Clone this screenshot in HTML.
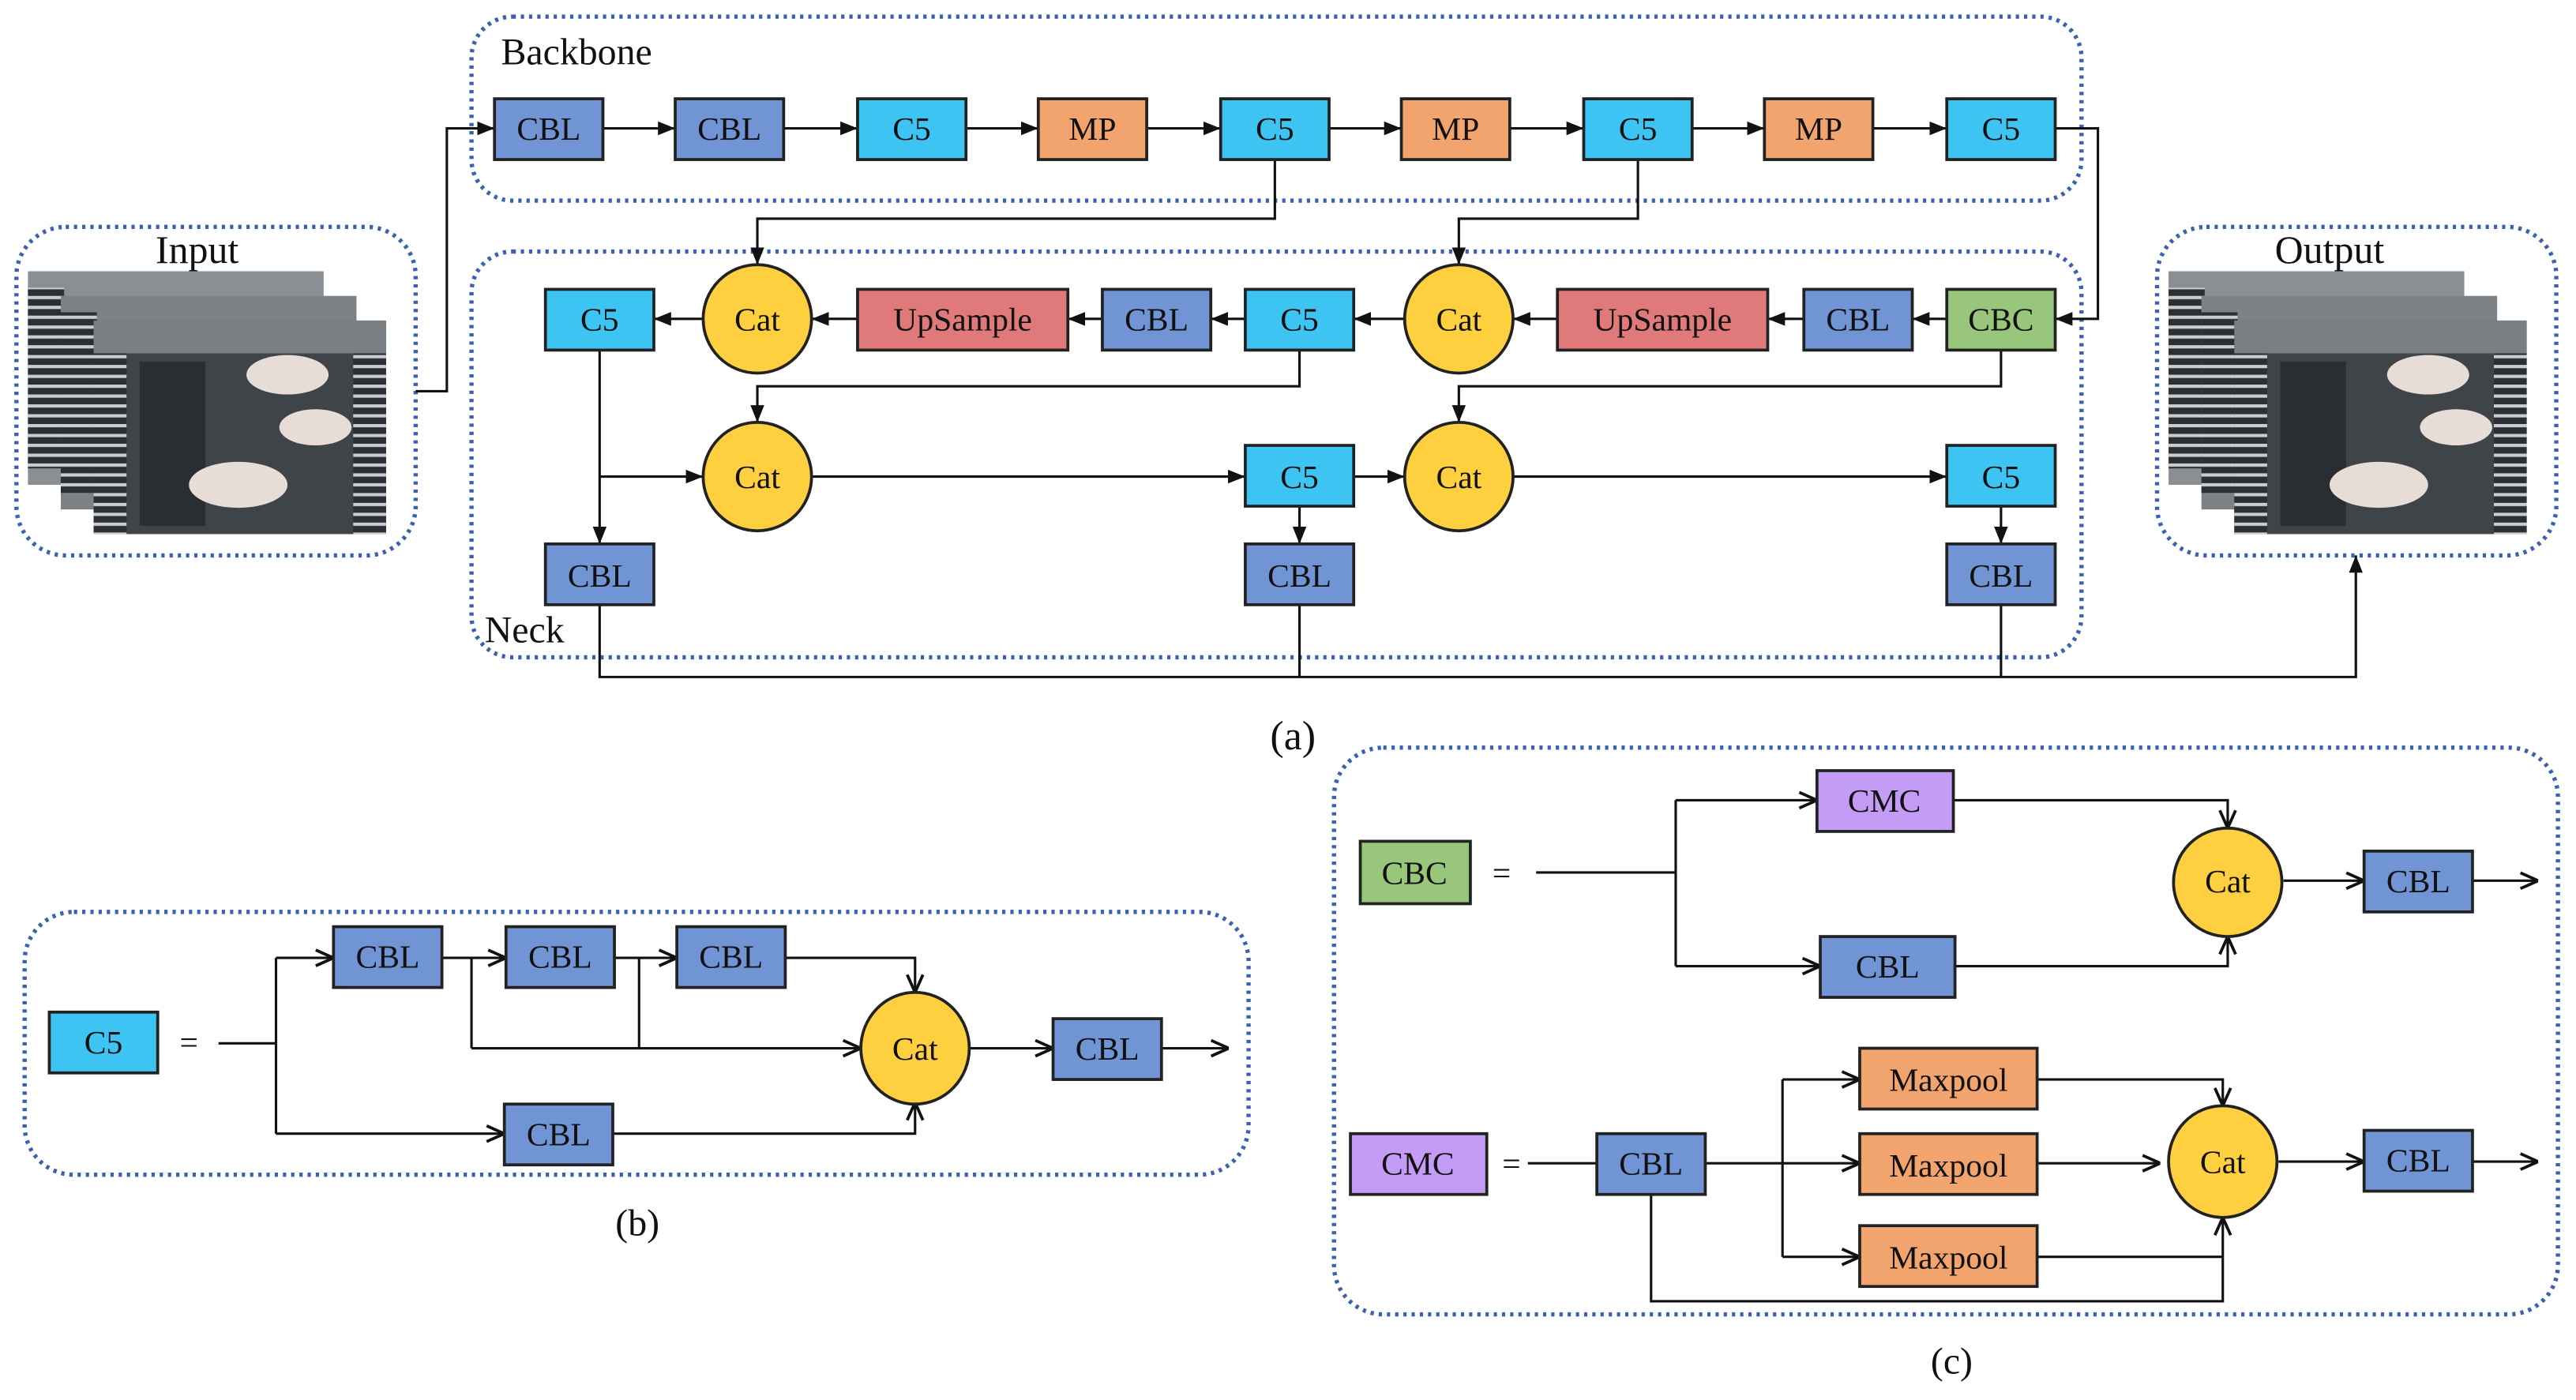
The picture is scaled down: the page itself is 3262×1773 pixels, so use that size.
<!DOCTYPE html>
<html><head><meta charset="utf-8"><style>
html,body{margin:0;padding:0;background:#fff;}
svg{display:block;}
text{font-family:"Liberation Serif",serif;fill:#111;}
</style></head><body>
<svg width="3262" height="1773" viewBox="0 0 1568 852" xmlns="http://www.w3.org/2000/svg">
<defs>
<marker id="a" viewBox="0 0 10 10" refX="10" refY="5" markerWidth="7" markerHeight="7" orient="auto"><path d="M0,1 L10,5 L0,9 z" fill="#111"/></marker>
<marker id="o" viewBox="0 0 10 10" refX="10" refY="5" markerWidth="8" markerHeight="8" orient="auto"><path d="M1,1 L10,5 L1,9" fill="none" stroke="#111" stroke-width="1.5"/></marker>
<pattern id="fence" width="4" height="6" patternUnits="userSpaceOnUse"><rect width="4" height="6" fill="#2c3034"/><rect width="4" height="2" fill="#c9ccd0"/></pattern>
</defs>
<g fill="none" stroke="#3a62b0" stroke-width="2.6" stroke-dasharray="2 3">
<rect x="287" y="10" width="980" height="112" rx="25"/>
<rect x="287" y="153" width="980" height="247" rx="25"/>
<rect x="10" y="138" width="243" height="200" rx="30"/>
<rect x="1313" y="138" width="243" height="200" rx="30"/>
<rect x="15" y="555" width="745" height="160" rx="30"/>
<rect x="812" y="455" width="745" height="345" rx="30"/>
</g>
<text x="305" y="39" font-size="23">Backbone</text>
<text x="295" y="391" font-size="23">Neck</text>
<text x="120" y="160" font-size="24" text-anchor="middle">Input</text>
<text x="1418" y="160" font-size="24" text-anchor="middle">Output</text>
<text x="787" y="456" font-size="25" text-anchor="middle">(a)</text>
<text x="388" y="752" font-size="23" text-anchor="middle">(b)</text>
<text x="1188" y="836" font-size="23" text-anchor="middle">(c)</text>
<!-- images -->
<g id="img">
<rect x="17" y="165" width="180" height="130" fill="#8a8f94"/>
<rect x="17" y="175" width="22" height="110" fill="url(#fence)"/>
<rect x="37" y="180" width="180" height="130" fill="#7d8287"/>
<rect x="37" y="190" width="22" height="110" fill="url(#fence)"/>
<rect x="57" y="195" width="178" height="130" fill="#3f4448"/>
<rect x="57" y="195" width="178" height="20" fill="#7a7f84"/>
<rect x="57" y="215" width="20" height="110" fill="url(#fence)"/>
<rect x="215" y="215" width="20" height="110" fill="url(#fence)"/>
<rect x="85" y="220" width="40" height="100" fill="#2a2e33"/>
<ellipse cx="175" cy="228" rx="25" ry="12" fill="#e8dcd6"/><ellipse cx="192" cy="260" rx="22" ry="11" fill="#e8dcd6"/><ellipse cx="145" cy="295" rx="30" ry="14" fill="#e8dcd6"/>
</g>
<use href="#img" transform="translate(1303,0)"/>
<!-- connectors -->
<g stroke="#111" stroke-width="1.5" fill="none">
<polyline points="253,238 272,238 272,78 301,78" marker-end="url(#a)"/>
<line x1="367" y1="78" x2="411" y2="78" marker-end="url(#a)"/>
<line x1="477" y1="78" x2="522" y2="78" marker-end="url(#a)"/>
<line x1="588" y1="78" x2="632" y2="78" marker-end="url(#a)"/>
<line x1="698" y1="78" x2="743" y2="78" marker-end="url(#a)"/>
<line x1="809" y1="78" x2="853" y2="78" marker-end="url(#a)"/>
<line x1="919" y1="78" x2="964" y2="78" marker-end="url(#a)"/>
<line x1="1030" y1="78" x2="1074" y2="78" marker-end="url(#a)"/>
<line x1="1140" y1="78" x2="1185" y2="78" marker-end="url(#a)"/>
<polyline points="776,97 776,133 461,133 461,161" marker-end="url(#a)"/>
<polyline points="997,97 997,133 888,133 888,161" marker-end="url(#a)"/>
<polyline points="1251,78 1277,78 1277,194 1251,194" marker-end="url(#a)"/>
<line x1="1185" y1="194" x2="1164" y2="194" marker-end="url(#a)"/>
<line x1="1098" y1="194" x2="1076" y2="194" marker-end="url(#a)"/>
<line x1="948" y1="194" x2="921" y2="194" marker-end="url(#a)"/>
<line x1="855" y1="194" x2="824" y2="194" marker-end="url(#a)"/>
<line x1="758" y1="194" x2="737" y2="194" marker-end="url(#a)"/>
<line x1="671" y1="194" x2="650" y2="194" marker-end="url(#a)"/>
<line x1="522" y1="194" x2="494" y2="194" marker-end="url(#a)"/>
<line x1="428" y1="194" x2="398" y2="194" marker-end="url(#a)"/>
<polyline points="791,213 791,235 461,235 461,257" marker-end="url(#a)"/>
<polyline points="1218,213 1218,235 888,235 888,257" marker-end="url(#a)"/>
<line x1="365" y1="213" x2="365" y2="331" marker-end="url(#a)"/>
<line x1="365" y1="290" x2="428" y2="290" marker-end="url(#a)"/>
<line x1="494" y1="290" x2="758" y2="290" marker-end="url(#a)"/>
<line x1="824" y1="290" x2="855" y2="290" marker-end="url(#a)"/>
<line x1="921" y1="290" x2="1185" y2="290" marker-end="url(#a)"/>
<line x1="791" y1="308" x2="791" y2="331" marker-end="url(#a)"/>
<line x1="1218" y1="308" x2="1218" y2="331" marker-end="url(#a)"/>
<polyline points="365,368 365,412 1434,412 1434,338" marker-end="url(#a)"/>
<line x1="791" y1="368" x2="791" y2="412"/>
<line x1="1218" y1="368" x2="1218" y2="412"/>
<!-- (b) -->
<line x1="133" y1="635" x2="168" y2="635"/>
<line x1="168" y1="583" x2="168" y2="690"/>
<line x1="168" y1="583" x2="203" y2="583" marker-end="url(#o)"/>
<line x1="269" y1="583" x2="308" y2="583" marker-end="url(#o)"/>
<line x1="374" y1="583" x2="412" y2="583" marker-end="url(#o)"/>
<polyline points="478,583 557,583 557,604" marker-end="url(#o)"/>
<line x1="287" y1="583" x2="287" y2="638"/>
<line x1="389" y1="583" x2="389" y2="638"/>
<line x1="287" y1="638" x2="524" y2="638" marker-end="url(#o)"/>
<line x1="168" y1="690" x2="307" y2="690" marker-end="url(#o)"/>
<polyline points="373,690 557,690 557,671" marker-end="url(#o)"/>
<line x1="590" y1="638" x2="641" y2="638" marker-end="url(#o)"/>
<line x1="707" y1="638" x2="748" y2="638" marker-end="url(#o)"/>
<!-- (c) -->
<line x1="935" y1="531" x2="1020" y2="531"/>
<line x1="1020" y1="487" x2="1020" y2="588"/>
<line x1="1020" y1="487" x2="1106" y2="487" marker-end="url(#o)"/>
<line x1="1020" y1="588" x2="1108" y2="588" marker-end="url(#o)"/>
<polyline points="1189,487 1356,487 1356,504" marker-end="url(#o)"/>
<polyline points="1190,588 1356,588 1356,570" marker-end="url(#o)"/>
<line x1="1390" y1="536" x2="1439" y2="536" marker-end="url(#o)"/>
<line x1="1505" y1="536" x2="1545" y2="536" marker-end="url(#o)"/>
<line x1="930" y1="708" x2="972" y2="708"/>
<line x1="1038" y1="708" x2="1132" y2="708" marker-end="url(#o)"/>
<line x1="1085" y1="657" x2="1085" y2="765"/>
<line x1="1085" y1="657" x2="1132" y2="657" marker-end="url(#o)"/>
<line x1="1085" y1="765" x2="1132" y2="765" marker-end="url(#o)"/>
<polyline points="1240,657 1353,657 1353,673" marker-end="url(#o)"/>
<line x1="1240" y1="708" x2="1315" y2="708" marker-end="url(#o)"/>
<line x1="1240" y1="765" x2="1353" y2="765"/>
<polyline points="1005,727 1005,792 1353,792 1353,741" marker-end="url(#o)"/>
<line x1="1387" y1="707" x2="1439" y2="707" marker-end="url(#o)"/>
<line x1="1505" y1="707" x2="1545" y2="707" marker-end="url(#o)"/>
</g>
<!-- boxes -->
<g stroke="#222" stroke-width="1.8">
<g fill="#7094d4">
<rect x="301" y="60" width="66" height="37"/><rect x="411" y="60" width="66" height="37"/>
<rect x="671" y="176" width="66" height="37"/><rect x="1098" y="176" width="66" height="37"/>
<rect x="332" y="331" width="66" height="37"/><rect x="758" y="331" width="66" height="37"/><rect x="1185" y="331" width="66" height="37"/>
<rect x="203" y="564" width="66" height="37"/><rect x="308" y="564" width="66" height="37"/><rect x="412" y="564" width="66" height="37"/>
<rect x="307" y="672" width="66" height="37"/><rect x="641" y="620" width="66" height="37"/>
<rect x="1108" y="570" width="82" height="37"/><rect x="1439" y="518" width="66" height="37"/>
<rect x="972" y="690" width="66" height="37"/><rect x="1439" y="688" width="66" height="37"/>
</g>
<g fill="#3dc4f2">
<rect x="522" y="60" width="66" height="37"/><rect x="743" y="60" width="66" height="37"/><rect x="964" y="60" width="66" height="37"/><rect x="1185" y="60" width="66" height="37"/>
<rect x="332" y="176" width="66" height="37"/><rect x="758" y="176" width="66" height="37"/>
<rect x="758" y="271" width="66" height="37"/><rect x="1185" y="271" width="66" height="37"/>
<rect x="30" y="616" width="66" height="37"/>
</g>
<g fill="#f2a46e">
<rect x="632" y="60" width="66" height="37"/><rect x="853" y="60" width="66" height="37"/><rect x="1074" y="60" width="66" height="37"/>
<rect x="1132" y="638" width="108" height="37"/><rect x="1132" y="690" width="108" height="37"/><rect x="1132" y="746" width="108" height="37"/>
</g>
<g fill="#e07a7a"><rect x="522" y="176" width="128" height="37"/><rect x="948" y="176" width="128" height="37"/></g>
<g fill="#98c77c"><rect x="1185" y="176" width="66" height="37"/><rect x="828" y="512" width="67" height="38"/></g>
<g fill="#c49cf6"><rect x="1106" y="469" width="83" height="37"/><rect x="822" y="690" width="83" height="37"/></g>
<g fill="#fed040">
<ellipse cx="461" cy="194" rx="33" ry="33"/><ellipse cx="888" cy="194" rx="33" ry="33"/>
<ellipse cx="461" cy="290" rx="33" ry="33"/><ellipse cx="888" cy="290" rx="33" ry="33"/>
<ellipse cx="557" cy="638" rx="33" ry="34"/><ellipse cx="1356" cy="537" rx="33" ry="33"/><ellipse cx="1353" cy="707" rx="33" ry="34"/>
</g>
</g>
<g font-size="20" text-anchor="middle">
<text x="334" y="85">CBL</text><text x="444" y="85">CBL</text><text x="555" y="85">C5</text><text x="665" y="85">MP</text>
<text x="776" y="85">C5</text><text x="886" y="85">MP</text><text x="997" y="85">C5</text><text x="1107" y="85">MP</text><text x="1218" y="85">C5</text>
<text x="365" y="201">C5</text><text x="461" y="201">Cat</text><text x="586" y="201">UpSample</text><text x="704" y="201">CBL</text>
<text x="791" y="201">C5</text><text x="888" y="201">Cat</text><text x="1012" y="201">UpSample</text><text x="1131" y="201">CBL</text><text x="1218" y="201">CBC</text>
<text x="461" y="297">Cat</text><text x="791" y="297">C5</text><text x="888" y="297">Cat</text><text x="1218" y="297">C5</text>
<text x="365" y="357">CBL</text><text x="791" y="357">CBL</text><text x="1218" y="357">CBL</text>
<text x="63" y="641">C5</text><text x="115" y="641">=</text>
<text x="236" y="589">CBL</text><text x="341" y="589">CBL</text><text x="445" y="589">CBL</text>
<text x="340" y="697">CBL</text><text x="557" y="645">Cat</text><text x="674" y="645">CBL</text>
<text x="861" y="538">CBC</text><text x="914" y="538">=</text>
<text x="1147" y="494">CMC</text><text x="1149" y="595">CBL</text><text x="1356" y="543">Cat</text><text x="1472" y="543">CBL</text>
<text x="863" y="715">CMC</text><text x="920" y="715">=</text><text x="1005" y="715">CBL</text>
<text x="1186" y="664">Maxpool</text><text x="1186" y="716">Maxpool</text><text x="1186" y="772">Maxpool</text>
<text x="1353" y="714">Cat</text><text x="1472" y="713">CBL</text>
</g>
</svg>
</body></html>
